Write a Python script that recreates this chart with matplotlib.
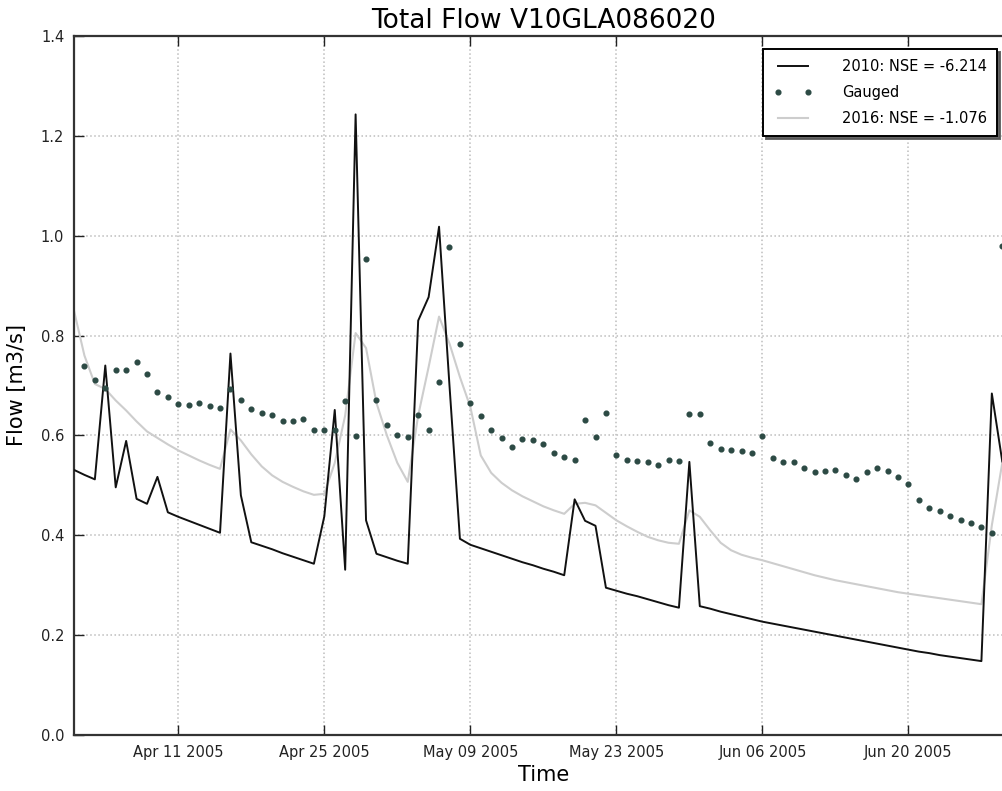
import matplotlib
matplotlib.use('Agg')
import matplotlib.pyplot as plt
import matplotlib.dates as mdates
import pandas as pd
import numpy as np

# ---------------- data ----------------
start_date = '2005-04-01'
n_days = 90

flow_2010 = [
    0.531, 0.521, 0.512, 0.740, 0.496, 0.589, 0.473, 0.463, 0.517, 0.446,
    0.437, 0.429, 0.421, 0.413, 0.405, 0.764, 0.480, 0.386, 0.379, 0.372,
    0.364, 0.357, 0.350, 0.343, 0.438, 0.651, 0.331, 1.243, 0.430, 0.363,
    0.356, 0.349, 0.343, 0.830, 0.877, 1.018, 0.700, 0.393, 0.381, 0.374,
    0.367, 0.360, 0.353, 0.346, 0.340, 0.333, 0.327, 0.320, 0.472, 0.429,
    0.419, 0.295, 0.289, 0.283, 0.278, 0.272, 0.266, 0.260, 0.255, 0.547,
    0.258, 0.253, 0.247, 0.242, 0.237, 0.232, 0.227, 0.223, 0.219, 0.215,
    0.211, 0.207, 0.203, 0.199, 0.195, 0.191, 0.187, 0.183, 0.179, 0.175,
    0.171, 0.167, 0.164, 0.160, 0.157, 0.154, 0.151, 0.148, 0.684, 0.548,
]

flow_2016 = [
    0.850, 0.760, 0.703, 0.693, 0.670, 0.650, 0.628, 0.608, 0.595, 0.582,
    0.570, 0.560, 0.550, 0.541, 0.533, 0.612, 0.590, 0.562, 0.538, 0.520,
    0.507, 0.497, 0.488, 0.481, 0.483, 0.545, 0.640, 0.805, 0.775, 0.665,
    0.600, 0.545, 0.507, 0.640, 0.737, 0.838, 0.784, 0.717, 0.657, 0.560,
    0.525, 0.505, 0.490, 0.478, 0.468, 0.458, 0.450, 0.443, 0.463, 0.465,
    0.460, 0.445, 0.430, 0.418, 0.407, 0.397, 0.390, 0.385, 0.383, 0.450,
    0.437, 0.410, 0.385, 0.370, 0.361, 0.355, 0.350, 0.344, 0.338, 0.332,
    0.326, 0.320, 0.315, 0.310, 0.306, 0.302, 0.298, 0.294, 0.290, 0.286,
    0.283, 0.280, 0.277, 0.274, 0.271, 0.268, 0.265, 0.262, 0.420, 0.545,
]

gauged = [
    np.nan, 0.740, 0.712, 0.695, 0.732, 0.732, 0.748, 0.723, 0.687, 0.676,
    0.663, 0.661, 0.665, 0.659, 0.654, 0.692, 0.670, 0.652, 0.645, 0.641,
    0.628, 0.628, 0.632, 0.611, 0.610, 0.610, 0.669, 0.599, 0.953, 0.670,
    0.621, 0.600, 0.597, 0.640, 0.610, 0.707, 0.978, 0.784, 0.665, 0.638,
    0.611, 0.595, 0.576, 0.593, 0.590, 0.582, 0.565, 0.557, 0.551, 0.630,
    0.597, 0.645, 0.560, 0.551, 0.548, 0.547, 0.540, 0.551, 0.549, 0.642,
    0.642, 0.584, 0.572, 0.570, 0.569, 0.565, 0.598, 0.555, 0.547, 0.547,
    0.535, 0.527, 0.529, 0.531, 0.520, 0.512, 0.526, 0.535, 0.529, 0.517,
    0.503, 0.471, 0.455, 0.449, 0.439, 0.430, 0.424, 0.416, 0.405, 0.980,
]

tick_dates = ['2005-04-11', '2005-04-25', '2005-05-09',
              '2005-05-23', '2005-06-06', '2005-06-20']
y_ticks = [0.0, 0.2, 0.4, 0.6, 0.8, 1.0, 1.2, 1.4]
x_end = '2005-06-30'

label_2010 = '2010: NSE = -6.214'
label_gauged = 'Gauged'
label_2016 = '2016: NSE = -1.076'

# ---------------- plot ----------------
dates = pd.date_range(start_date, periods=n_days, freq='D')

W, H = 1003, 791
fig = plt.figure(figsize=(W / 100, H / 100), dpi=100)
fig.patch.set_facecolor('white')
ax_left, ax_right, ax_top, ax_bottom = 74, 1012.7, 36, 735
ax = fig.add_axes([ax_left / W, 1 - ax_bottom / H,
                   (ax_right - ax_left) / W, (ax_bottom - ax_top) / H])

ax.plot(dates, flow_2010, color='#111111', lw=1.4, label=label_2010, zorder=3)
ax.plot(dates, gauged, linestyle='none', marker='o', ms=3.4,
        color='#2c4a44', mec='#2c4a44', label=label_gauged, zorder=4)
ax.plot(dates, flow_2016, color='#cdcdcd', lw=1.5, label=label_2016, zorder=2)

ax.set_xlim(dates[0], pd.Timestamp(x_end))
ax.set_ylim(0, 1.4)
ax.set_yticks(y_ticks)
ax.yaxis.set_major_formatter(matplotlib.ticker.FormatStrFormatter('%.1f'))
ax.set_xticks(pd.to_datetime(tick_dates))
ax.xaxis.set_major_formatter(mdates.DateFormatter('%b %d %Y'))

ax.tick_params(direction='in', length=7, width=1, top=True, right=True,
               labelsize=10.5, colors='#222222', pad=7)
for s in ax.spines.values():
    s.set_linewidth(1.6)
    s.set_color('#333333')

ax.grid(True, linestyle=':', color='#bdbdbd', linewidth=1.1)
ax.set_axisbelow(True)

ax.set_title('Total Flow V10GLA086020', fontsize=19, pad=6)
ax.set_xlabel('Time', fontsize=15, labelpad=4)
ax.set_ylabel('Flow [m3/s]', fontsize=15, labelpad=10)

leg = ax.legend(loc='upper right', bbox_to_anchor=(997 / W, 1 - 49 / H),
                bbox_transform=fig.transFigure, borderaxespad=0,
                fontsize=10.5, numpoints=2, handlelength=2.7,
                handletextpad=2.0, labelspacing=0.75, borderpad=0.7,
                fancybox=False, shadow={'color': '#555555', 'alpha': 0.9},
                framealpha=1)
leg.get_frame().set_edgecolor('black')
leg.get_frame().set_linewidth(1.4)

fig.savefig('out.png', dpi=100)
